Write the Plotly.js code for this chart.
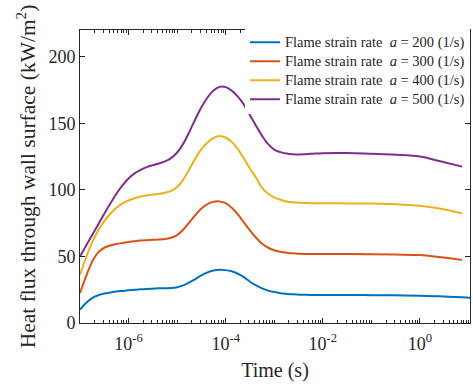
<!DOCTYPE html>
<html>
<head>
<meta charset="utf-8">
<script src="https://cdn.plot.ly/plotly-3.0.1.min.js"></script>
<style>html,body{margin:0;padding:0;background:#fff;}#chart{width:473px;height:389px;}</style>
</head>
<body>
<div id="chart"></div>
<script>
// Time samples (s)
const timeS = [1e-7, 1.33e-7, 1.78e-7, 2.37e-7, 3.16e-7, 4.22e-7, 5.62e-7, 7.5e-7,
  1e-6, 1.33e-6, 1.78e-6, 2.37e-6, 3.16e-6, 4.22e-6, 5.62e-6, 7.5e-6,
  1e-5, 1.33e-5, 1.78e-5, 2.37e-5, 3.16e-5, 4.22e-5, 5.62e-5, 7.5e-5,
  1e-4, 1.33e-4, 1.78e-4, 2.37e-4, 3.16e-4, 4.22e-4, 5.62e-4, 7.5e-4,
  1e-3, 1.33e-3, 1.78e-3, 2.37e-3, 3.16e-3,
  5.62e-3, 1e-2, 3.16e-2, 0.1, 0.316, 1, 2.5, 7.4];
const timeBlue = timeS.concat([10.7]);
// Heat flux through wall surface (kW/m^2)
const flux200 = [10, 15, 18.7, 20.8, 22.1, 22.9, 23.6, 24.1,
  24.6, 25, 25.3, 25.6, 25.8, 26, 26.1, 26.3,
  26.9, 28.2, 30.5, 33, 35.8, 38, 39.4, 39.9,
  39.7, 38.8, 37, 34.5, 31, 28.2, 26, 24.3,
  23.2, 22.4, 21.9, 21.5, 21.3,
  21.1, 21, 21, 20.9, 20.8, 20.5, 20, 19.3, 19];
const flux300 = [22.5, 35, 46, 53, 56.5, 58.2, 59.3, 60.1,
  60.8, 61.4, 61.9, 62.2, 62.5, 62.7, 63, 64,
  66, 70, 75.5, 81, 86, 89.3, 91, 91.3,
  90, 86.5, 81.5, 75.5, 69.5, 64, 59.5, 56.5,
  54.6, 53.5, 52.8, 52.3, 52,
  51.8, 51.8, 51.8, 51.7, 51.4, 51, 49.5, 47.4];
const flux400 = [36, 49, 60.5, 69.5, 76.5, 82, 86.5, 89.8,
  92, 93.7, 95, 95.8, 96.4, 97, 97.8, 99.2,
  102.2, 107.5, 115.5, 123.5, 130.5, 135.5, 139, 140.5,
  139.3, 136, 130.5, 123.5, 116, 109, 101.5, 97,
  94.3, 92.5, 91.3, 90.6, 90.2,
  90, 89.9, 89.8, 89.7, 89.2, 88, 86, 82.4];
const flux500 = [50, 58, 66, 74, 82, 89.7, 97, 103.3,
  108.5, 112.3, 115, 117, 118.5, 119.8, 121.3, 123.8,
  128, 134.5, 143.5, 153, 162, 169.3, 174.6, 177.3,
  177.1, 174.5, 170, 164, 156, 148, 140.5, 134.3,
  130.2, 128.3, 127.2, 126.7, 126.6,
  127, 127.5, 127.6, 127, 126.3, 125, 121.6, 117.4];
const strainRates = [200, 300, 400, 500];
const colors = ['#0072BD', '#D95319', '#EDB120', '#7E2F8E'];
const xTickVals = [1e-6, 1e-4, 1e-2, 1];
const xTickText = ['10<sup>-6</sup>', '10<sup>-4</sup>', '10<sup>-2</sup>', '10<sup>0</sup>'];

const xs = [timeBlue, timeS, timeS, timeS];
const ys = [flux200, flux300, flux400, flux500];
const traces = strainRates.map((a, i) => ({
  x: xs[i], y: ys[i], type: 'scatter', mode: 'lines',
  line: {color: colors[i], width: 2, shape: 'spline', smoothing: 1, simplify: false},
  name: '<span style="font-size:14.5px">Flame strain rate  <i>a</i> = ' + a + ' (1/s)</span>'
}));

const axisCol = '#262626';
const fam = 'Liberation Serif, Times New Roman, serif';
const f = (s) => ({family: fam, size: s, color: axisCol});
const layout = {
  width: 473, height: 389,
  margin: {l: 80, r: 3, t: 30, b: 66},
  paper_bgcolor: '#fff', plot_bgcolor: '#fff',
  font: f(17),
  showlegend: true,
  legend: {x: 1, y: 1.008, xanchor: 'right', yanchor: 'top', bgcolor: '#fff', borderwidth: 0,
    font: f(12)},
  xaxis: {
    type: 'log', range: [-7, 1.03], tickvals: xTickVals, ticktext: xTickText,
    showline: true, mirror: 'ticks', linecolor: axisCol, linewidth: 1,
    ticks: 'inside', ticklen: 5, tickcolor: axisCol, showgrid: false, zeroline: false,
    tickfont: f(18), ticklabelstandoff: 4,
    minor: {dtick: 'D1', ticks: 'inside', ticklen: 3, tickcolor: axisCol, showgrid: false},
    title: {text: 'Time (s)', font: f(20), standoff: 10}
  },
  yaxis: {
    range: [0, 220], dtick: 50, tick0: 0,
    showline: true, mirror: 'ticks', linecolor: axisCol, linewidth: 1,
    ticks: 'inside', ticklen: 5, tickcolor: axisCol, showgrid: false, zeroline: false,
    tickfont: f(18),
    title: {text: 'Heat flux through wall surface (kW/m<sup>2</sup>)', font: f(21.5), standoff: 6}
  }
};
Plotly.newPlot('chart', traces, layout, {displayModeBar: false, staticPlot: true});
</script>
</body>
</html>
